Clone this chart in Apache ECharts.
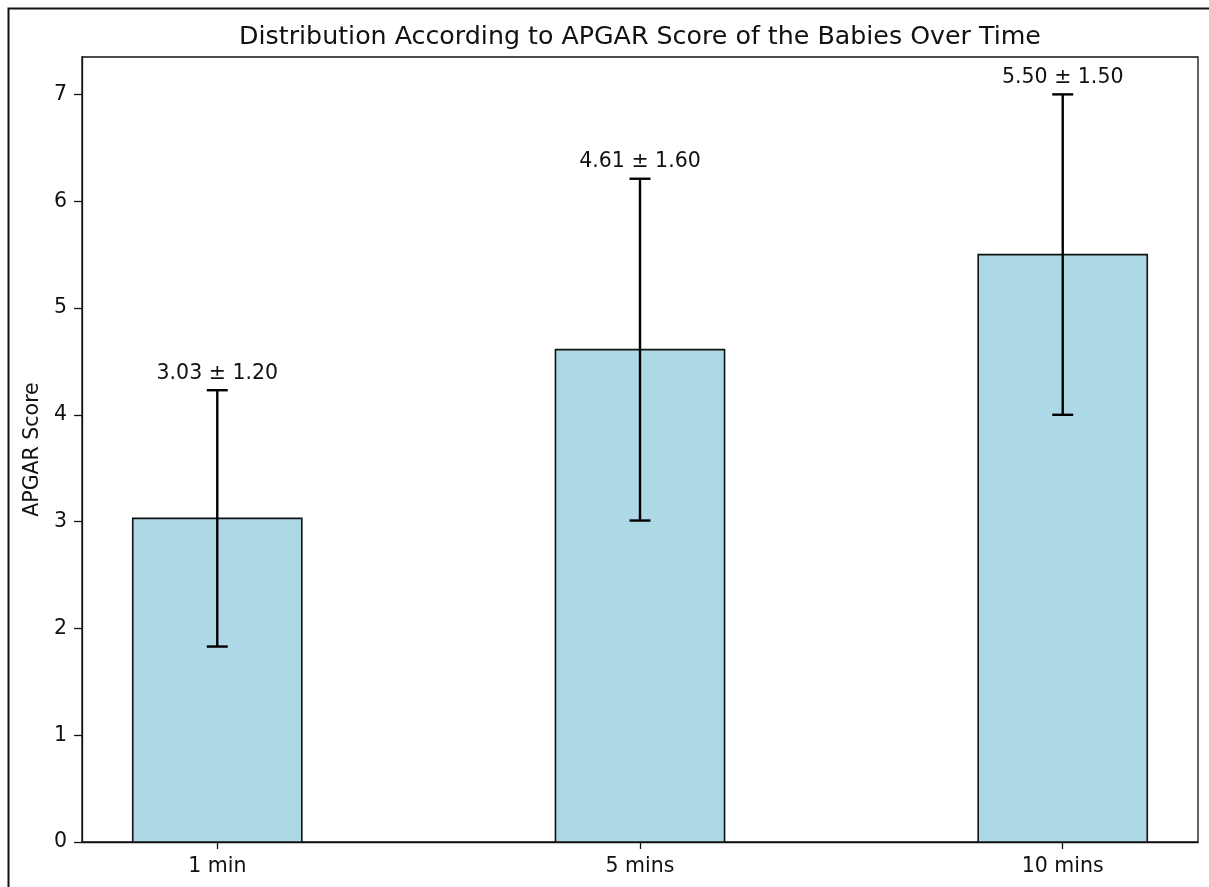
<!DOCTYPE html>
<html>
<head>
<meta charset="utf-8">
<script src="https://cdn.jsdelivr.net/npm/echarts@6/dist/echarts.min.js"></script>
<style>html,body{margin:0;padding:0;background:#fff}#c{width:1209px;height:887px}</style>
</head>
<body>
<div id="c"></div>
<script>
const categories = ['1 min', '5 mins', '10 mins'];
const means = [3.03, 4.61, 5.50];
const sds = [1.20, 1.60, 1.50];
const yTicks = [0, 1, 2, 3, 4, 5, 6, 7];
const xPositions = [0, 1, 2];

const FONT = 'DejaVu Sans';
const chart = echarts.init(document.getElementById('c'), null, {renderer: 'canvas'});

const barData = xPositions.map((x, i) => [x, means[i]]);
const errData = xPositions.map((x, i) => [x, means[i], sds[i]]);

chart.setOption({
  backgroundColor: '#fff',
  animation: false,
  title: {
    text: 'Distribution According to APGAR Score of the Babies Over Time',
    left: 635, textAlign: 'center', top: 20,
    textStyle: {fontFamily: FONT, fontSize: 25.3, fontWeight: 'normal', color: '#111'}
  },
  graphic: [{
    type: 'rect', left: 6, top: 6,
    shape: {width: 1300, height: 1000},
    style: {fill: 'none', stroke: '#111', lineWidth: 2}
  }],
  grid: {left: 82, top: 57, right: 11, bottom: 45, show: true, borderColor: '#111', borderWidth: 1.3, backgroundColor: 'transparent'},
  xAxis: {
    type: 'value', min: -0.32, max: 2.32,
    splitLine: {show: false},
    axisLine: {show: true, onZero: false, lineStyle: {color: '#111', width: 1.3}},
    axisTick: {show: true, customValues: xPositions, length: 7, lineStyle: {color: '#111', width: 1.3}},
    axisLabel: {customValues: xPositions, formatter: v => categories[Math.round(v)], fontFamily: FONT, fontSize: 20.5, color: '#111', margin: 14}
  },
  yAxis: {
    type: 'value', min: 0, max: 7.35,
    name: 'APGAR Score', nameLocation: 'middle', nameGap: 39,
    nameTextStyle: {fontFamily: FONT, fontSize: 20.5, color: '#111'},
    splitLine: {show: false},
    axisLine: {show: true, onZero: false, lineStyle: {color: '#111', width: 1.3}},
    axisTick: {show: true, customValues: yTicks, length: 8, lineStyle: {color: '#111', width: 1.3}},
    axisLabel: {customValues: yTicks, fontFamily: FONT, fontSize: 20.5, color: '#111', margin: 15}
  },
  series: [
    {
      type: 'custom', data: barData, z: 2,
      renderItem: function (params, api) {
        const x = api.value(0), y = api.value(1);
        const p0 = api.coord([x - 0.2, 0]);
        const p1 = api.coord([x + 0.2, y]);
        return {
          type: 'rect',
          shape: {x: p0[0], y: p1[1], width: p1[0] - p0[0], height: p0[1] - p1[1]},
          style: {fill: '#ADD8E6', stroke: '#111', lineWidth: 1.6}
        };
      }
    },
    {
      type: 'custom', data: errData, z: 3,
      renderItem: function (params, api) {
        const x = api.value(0), m = api.value(1), s = api.value(2);
        const top = api.coord([x, m + s]);
        const bot = api.coord([x, m - s]);
        const cap = 10.5;
        const ls = {stroke: '#000', lineWidth: 2.4};
        return {
          type: 'group',
          children: [
            {type: 'line', shape: {x1: top[0], y1: top[1], x2: bot[0], y2: bot[1]}, style: ls},
            {type: 'line', shape: {x1: top[0] - cap, y1: top[1], x2: top[0] + cap, y2: top[1]}, style: ls},
            {type: 'line', shape: {x1: bot[0] - cap, y1: bot[1], x2: bot[0] + cap, y2: bot[1]}, style: ls},
            {type: 'text', x: top[0], y: top[1] - 17,
             style: {text: m.toFixed(2) + ' \u00b1 ' + s.toFixed(2), fontFamily: FONT, fontSize: 20.5, fill: '#111', align: 'center', verticalAlign: 'middle'}}
          ]
        };
      }
    }
  ]
});
</script>
</body>
</html>
